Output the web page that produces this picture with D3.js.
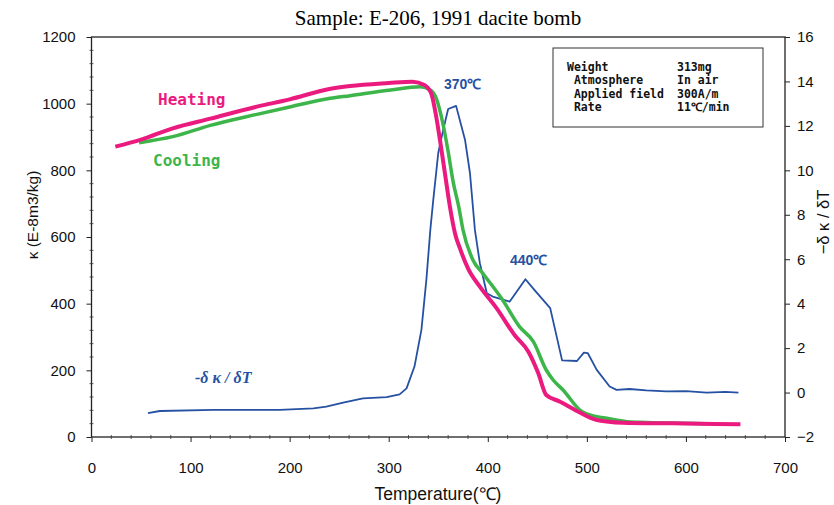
<!DOCTYPE html>
<html><head><meta charset="utf-8">
<script src="https://cdn.jsdelivr.net/npm/d3@7"></script>
<style>body{margin:0;background:#fff}</style>
</head><body>
<svg id="c" width="834" height="505"></svg>
<script>
const heatT = [24,50,82,120,167,200,240,261,300,324,336,343,348,352,357,362,367,372,380,392,409,427,441,451,459,473,490,510,536,587,655];
const heatK = [871,892,926,955,991,1013,1044,1053,1062,1066,1056,1030,960,886,786,687,610,565,506,451,386,306,256,191,126,106,78,51,43,41,38];
const coolT = [48,82,120,167,200,241,261,300,332,342,348,355,360,365,371,375,385,395,415,432,446,459,466,476,493,510,520,540,554,620];
const coolK = [883,901,935,968,990,1016,1024,1040,1051,1041,1016,936,856,766,686,621,531,491,411,331,286,201,171,141,81,61,56,46,44,40];
const dT = [57,69,123,190,224,237,254,274,298,311,318,326,333,338,342,345,350,355,360,368,377,382,387,392,399,405,422,438,447,463,475,490,497,501,510,523,530,543,560,580,600,621,640,653];
const dV = [-0.93,-0.83,-0.78,-0.78,-0.71,-0.63,-0.45,-0.26,-0.21,-0.08,0.19,1.17,2.82,5.07,7.32,8.68,10.78,11.83,12.76,12.9,11.38,9.88,7.32,5.82,4.47,4.32,4.09,5.1,4.62,3.8,1.45,1.42,1.8,1.77,1.02,0.27,0.12,0.16,0.1,0.05,0.06,0.0,0.03,0.0];
const xTicks = [0,100,200,300,400,500,600,700];
const yTicks = [0,200,400,600,800,1000,1200];
const y2Ticks = [-2,0,2,4,6,8,10,12,14,16];
const infoLabels = ["Weight"," Atmosphere"," Applied field"," Rate"];
const infoValues = ["313mg","In air","300A/m","11\u2103/min"];

const svg = d3.select("#c");
const L=91.5, R=785, T=37, B=437;
const x = d3.scaleLinear().domain([0,700]).range([L,R]);
const y = d3.scaleLinear().domain([0,1200]).range([B,T]);
const y2 = d3.scaleLinear().domain([-2,16]).range([B,T]);
const tickFont = "'Liberation Sans', Arial, sans-serif";

svg.append("text").attr("x",438).attr("y",25).attr("text-anchor","middle")
  .attr("font-family","'Liberation Serif','Times New Roman',serif").attr("font-size",21)
  .text("Sample: E-206, 1991 dacite bomb");

// frame
svg.append("rect").attr("x",L).attr("y",T).attr("width",R-L).attr("height",B-T)
  .attr("fill","none").attr("stroke","#222").attr("stroke-width",1.3);

// minor ticks
const gm = svg.append("g").attr("stroke","#333").attr("stroke-width",0.8);
d3.range(0,701,20).forEach(v=>{ if(v%100) gm.append("line").attr("x1",x(v)).attr("x2",x(v)).attr("y1",B-2).attr("y2",B+2);});
d3.range(0,1201,40).forEach(v=>{ if(v%200) gm.append("line").attr("x1",L-2).attr("x2",L+2).attr("y1",y(v)).attr("y2",y(v));});

const ax = svg.append("g").attr("transform",`translate(0,${B})`)
  .call(d3.axisBottom(x).tickValues(xTicks).tickSize(5).tickPadding(20).tickFormat(d3.format("d")));
const ay = svg.append("g").attr("transform",`translate(${L},0)`)
  .call(d3.axisLeft(y).tickValues(yTicks).tickSize(5).tickPadding(11).tickFormat(d3.format("d")));
const ay2 = svg.append("g").attr("transform",`translate(${R},0)`)
  .call(d3.axisRight(y2).tickValues(y2Ticks).tickSize(5).tickPadding(7).tickFormat(d3.format("d")));
[ax,ay,ay2].forEach(g=>{
  g.select(".domain").remove();
  g.selectAll("line").attr("stroke","#222").attr("stroke-width",1);
  g.selectAll("text").attr("font-family",tickFont).attr("font-size",15).attr("fill","#111");
});

svg.append("text").attr("x",438).attr("y",500).attr("text-anchor","middle")
  .attr("font-family",tickFont).attr("font-size",17.5).attr("fill","#111").text("Temperature(\u2103)");
svg.append("text").attr("transform","translate(38,215) rotate(-90)").attr("text-anchor","middle")
  .attr("font-family",tickFont).attr("font-size",15.5).attr("fill","#111").text("\u03ba  (E-8m3/kg)");
svg.append("text").attr("transform","translate(829,222) rotate(-90)").attr("text-anchor","middle")
  .attr("font-family",tickFont).attr("font-size",16.5).attr("fill","#111").text("\u2212\u03b4 \u03ba / \u03b4T");

// lines
const lineK = d3.line().x(d=>x(d[0])).y(d=>y(d[1])).curve(d3.curveMonotoneX);
const lineD = d3.line().x(d=>x(d[0])).y(d=>y2(d[1]));
svg.append("path").datum(dT.map((t,i)=>[t,dV[i]])).attr("d",lineD)
  .attr("fill","none").attr("stroke","#2651a3").attr("stroke-width",1.8).attr("stroke-linejoin","round");
svg.append("path").datum(coolT.map((t,i)=>[t,coolK[i]])).attr("d",lineK)
  .attr("fill","none").attr("stroke","#3db54a").attr("stroke-width",3.5).attr("stroke-linejoin","round");
svg.append("path").datum(heatT.map((t,i)=>[t,heatK[i]])).attr("d",lineK)
  .attr("fill","none").attr("stroke","#ea1a7f").attr("stroke-width",4).attr("stroke-linejoin","round");

// labels
const mono = "'DejaVu Sans Mono','Liberation Mono',monospace";
svg.append("text").attr("x",158).attr("y",105).attr("font-family",mono).attr("font-weight","bold")
  .attr("font-size",16).attr("fill","#ea1a7f").text("Heating");
svg.append("text").attr("x",153).attr("y",166).attr("font-family",mono).attr("font-weight","bold")
  .attr("font-size",16).attr("fill","#3db54a").text("Cooling");
svg.append("text").attr("x",444).attr("y",89).attr("font-family",tickFont).attr("font-weight","bold")
  .attr("font-size",14).attr("fill","#2651a3").text("370\u2103");
svg.append("text").attr("x",510).attr("y",265).attr("font-family",tickFont).attr("font-weight","bold")
  .attr("font-size",14).attr("fill","#2651a3").text("440\u2103");
svg.append("text").attr("x",195).attr("y",383).attr("font-family","'Liberation Serif',serif").attr("font-style","italic")
  .attr("font-weight","bold").attr("font-size",16).attr("fill","#2651a3").text("-\u03b4 \u03ba / \u03b4T");

// info box
svg.append("rect").attr("x",553).attr("y",48).attr("width",210).attr("height",79)
  .attr("fill","#fff").attr("stroke","#333").attr("stroke-width",1);
infoLabels.forEach((s,i)=>{
  svg.append("text").attr("x",567).attr("y",71+i*13.3).attr("font-family",mono).attr("font-size",11.5)
    .attr("font-weight","bold").style("white-space","pre").attr("fill","#111").text(s);
  svg.append("text").attr("x",677).attr("y",71+i*13.3).attr("font-family",mono).attr("font-size",11.5)
    .attr("font-weight","bold").attr("fill","#111").text(infoValues[i]);
});
</script>
</body></html>
